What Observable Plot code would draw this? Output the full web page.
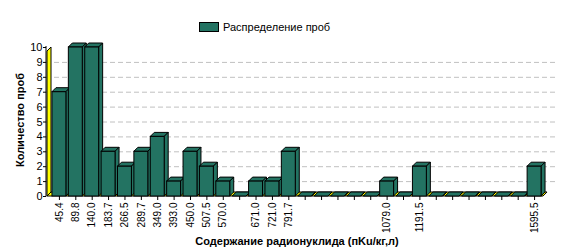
<!DOCTYPE html>
<html><head><meta charset="utf-8">
<script src="https://cdn.jsdelivr.net/npm/d3@7"></script>
<script src="https://cdn.jsdelivr.net/npm/@observablehq/plot@0.6"></script>
<style>
body{margin:0;background:#fff;font-family:Arial,"Liberation Sans",sans-serif;}
#wrap{position:relative;width:561px;height:249px;overflow:hidden;}
#wrap svg{position:absolute;left:0;top:0;}
.lbl{position:absolute;white-space:nowrap;font-size:11px;color:#000;}
#legend{left:199px;top:21px;display:flex;align-items:center;}
#legend .sw{display:inline-block;width:18px;height:8px;border:1px solid #000;margin-right:4px;}
#ylab{left:20px;top:120px;font-weight:bold;transform:translate(-50%,-50%) rotate(-90deg);}
#xlab{left:297px;top:241px;font-weight:bold;transform:translate(-50%,-50%);}
</style></head><body>
<div id="wrap"></div>
<script>
const categories = ["45.4","89.8","140.0","183.7","266.5","289.7","349.0","393.0","450.0","507.5","570.0","","671.0","721.0","791.7","","","","","","1079.0","","1191.5","","","","","","","1595.5"];
const counts = [7,10,10,3,2,3,4,1,3,2,1,0,1,1,3,0,0,0,0,0,1,0,2,0,0,0,0,0,0,2];
const yTicks = [0,1,2,3,4,5,6,7,8,9,10];
const gridTicks = [1,2,3,4,5,6,7,8,9];
const seriesName = "Распределение проб";
const yLabel = "Количество проб";
const xLabel = "Содержание радионуклида (пKu/кг,л)";
const barColor = "#237362";
const wallColor = "#ffff00";
const depth = 4;

const data = counts.map((v, i) => ({i, v}));

function threeD(index, scales, values, dimensions) {
  const x = scales.x, y = scales.y;
  const bw = x.bandwidth ? x.bandwidth() : 14;
  const y0 = y(0), yTop = y(10);
  const g = d3.create("svg:g");
  const L = dimensions.marginLeft;
  // left wall
  g.append("polygon")
    .attr("points", [[L+1, y0], [L+1, yTop+depth], [L+1+depth, yTop], [L+1+depth, y0-depth]].join(" "))
    .attr("fill", wallColor).attr("stroke", "#000");
  // floor
  const xe = x(counts.length-1) + bw;
  g.append("polygon")
    .attr("points", [[L+1, y0], [xe+2, y0], [xe+2+depth, y0-depth], [L+1+depth, y0-depth]].join(" "))
    .attr("fill", wallColor).attr("stroke", "#000");
  // axis line
  g.append("line").attr("x1", L).attr("x2", L).attr("y1", yTop-1).attr("y2", y0+0.5).attr("stroke", "#000");
  for (const d of data) {
    const a = x(d.i), b = a + bw, t = y(d.v);
    g.append("polygon")
      .attr("points", [[a, t], [a+depth, t-depth], [b+depth, t-depth], [b, t]].join(" "))
      .attr("fill", barColor).attr("stroke", "#000");
    g.append("polygon")
      .attr("points", [[b, t], [b+depth, t-depth], [b+depth, y0-depth], [b, y0]].join(" "))
      .attr("fill", barColor).attr("stroke", "#000");
  }
  return g.node();
}

const plot = Plot.plot({
  width: 561,
  height: 249,
  marginLeft: 46,
  marginRight: 6,
  marginTop: 47,
  marginBottom: 53,
  style: {fontFamily: "Arial, 'Liberation Sans', sans-serif", fontSize: "11px", background: "transparent", color: "#000"},
  x: {type: "band", domain: d3.range(counts.length), range: [49.5, 543.5], padding: 0.15, round: false},
  y: {domain: [0, 10]},
  marks: [
    Plot.gridY(gridTicks, {stroke: "#c0c0c0", strokeOpacity: 1, strokeDasharray: "5,3"}),
    threeD,
    Plot.barY(data, {x: "i", y: "v", fill: barColor, stroke: "#000"}),
    Plot.axisY(yTicks, {tickSize: 3, tickPadding: 1, label: null, fontSize: 11}),
    Plot.axisX({tickRotate: -90, tickSize: 4, tickPadding: 2, tickFormat: i => categories[i], label: null, fontSize: 10})
  ]
});
const wrap = document.getElementById("wrap");
wrap.appendChild(plot);
const leg = document.createElement("div");
leg.id = "legend"; leg.className = "lbl";
leg.innerHTML = `<span class="sw" style="background:${barColor}"></span>`;
leg.appendChild(document.createTextNode(seriesName));
wrap.appendChild(leg);
const yl = document.createElement("div"); yl.id = "ylab"; yl.className = "lbl"; yl.textContent = yLabel; wrap.appendChild(yl);
const xl = document.createElement("div"); xl.id = "xlab"; xl.className = "lbl"; xl.textContent = xLabel; wrap.appendChild(xl);
</script>
</body></html>
